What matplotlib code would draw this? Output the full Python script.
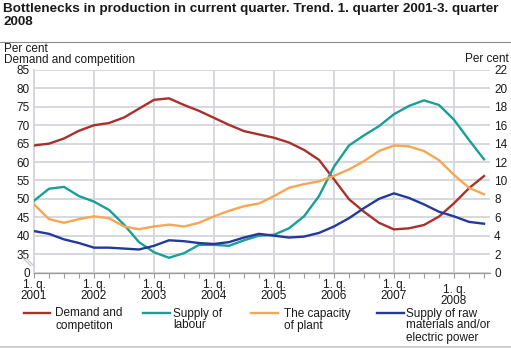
import numpy as np
import matplotlib
matplotlib.use("Agg")
import matplotlib.pyplot as plt
from matplotlib.lines import Line2D

plt.rcParams["font.family"] = ["Liberation Sans", "DejaVu Sans"]

# Quarterly trend, 1. quarter 2001 - 3. quarter 2008
years = [2001, 2002, 2003, 2004, 2005, 2006, 2007, 2008]
n_quarters = 31

# Left axis (per cent)
demand = [64.5, 65.0, 66.4, 68.5, 70.0, 70.6, 72.1, 74.5, 76.9, 77.3, 75.5,
          73.9, 72.0, 70.1, 68.4, 67.5, 66.6, 65.3, 63.3, 60.6, 55.3, 49.9,
          46.5, 43.5, 41.7, 42.0, 42.9, 45.2, 48.8, 52.9, 56.2]
# Right axis (per cent)
labour = [7.8, 9.1, 9.3, 8.3, 7.7, 6.8, 5.2, 3.3, 2.2, 1.6, 2.1, 3.0, 3.0,
          2.9, 3.5, 4.0, 4.1, 4.8, 6.1, 8.3, 11.5, 13.8, 14.9, 15.9, 17.2,
          18.1, 18.7, 18.2, 16.6, 14.4, 12.3]
capacity = [7.4, 5.8, 5.4, 5.8, 6.1, 5.9, 5.0, 4.7, 5.0, 5.2, 5.0, 5.4, 6.1,
            6.7, 7.2, 7.5, 8.3, 9.2, 9.6, 9.9, 10.5, 11.2, 12.1, 13.2, 13.8,
            13.7, 13.2, 12.2, 10.6, 9.2, 8.5]
raw_materials = [4.5, 4.2, 3.6, 3.2, 2.7, 2.7, 2.6, 2.5, 2.9, 3.5, 3.4, 3.2,
                 3.1, 3.3, 3.8, 4.2, 4.0, 3.8, 3.9, 4.3, 5.0, 5.9, 7.0, 8.0,
                 8.6, 8.1, 7.4, 6.6, 6.1, 5.5, 5.3]

left_ticks = [30, 35, 40, 45, 50, 55, 60, 65, 70, 75, 80, 85]
left_labels = ["0", "35", "40", "45", "50", "55", "60", "65", "70", "75", "80", "85"]
right_ticks = list(range(0, 23, 2))

series_labels = ["Demand and\ncompetiton", "Supply of\nlabour",
                 "The capacity\nof plant",
                 "Supply of raw\nmaterials and/or\nelectric power"]
colors = ["#a8312c", "#1a9e98", "#f8a651", "#24399a"]

W, H = 511, 348
fig = plt.figure(figsize=(W / 100, H / 100), dpi=100)


def fx(px):
    return px / W


def fy(py):
    return 1 - py / H


grid_c = "#d4d5dc"
text_c = "#1a1a1a"
fs = 8.5

ax = fig.add_axes([fx(34), fy(272.5), fx(490) - fx(34), fy(70) - fy(272.5)])
ax2 = ax.twinx()
x = np.arange(n_quarters)

ax.set_xlim(0, 30.4)
ax.set_ylim(30, 85)
ax2.set_ylim(0, 22)

ax.set_yticks(left_ticks)
ax.set_yticklabels(left_labels)
ax2.set_yticks(right_ticks)

year_pos = [4 * k for k in range(len(years))]
ax.set_xticks(year_pos)
ax.set_xticks(x, minor=True)
ax.set_xticklabels([])

ax.grid(True, axis="both", which="major", color=grid_c, lw=1.3)
ax.set_axisbelow(True)

for s in ["top", "right"]:
    ax.spines[s].set_visible(False)
for s in ["top", "right", "left", "bottom"]:
    ax2.spines[s].set_visible(False)
ax.spines["left"].set_color(grid_c)
ax.spines["left"].set_linewidth(1.3)
ax.spines["bottom"].set_color("#9a9a9a")
ax.spines["bottom"].set_linewidth(0.9)

ax.tick_params(axis="y", length=0, pad=3.0, labelsize=fs, labelcolor=text_c)
ax2.tick_params(axis="y", length=0, pad=3.0, labelsize=fs, labelcolor=text_c)
ax.tick_params(axis="x", which="both", direction="out", length=3.5,
               width=0.8, color="#9a9a9a")

ax.plot(x, demand, color=colors[0], lw=1.7, solid_joinstyle="round", zorder=3)
ax2.plot(x, labour, color=colors[1], lw=1.7, solid_joinstyle="round")
ax2.plot(x, capacity, color=colors[2], lw=1.7, solid_joinstyle="round")
ax2.plot(x, raw_materials, color=colors[3], lw=1.7, solid_joinstyle="round")

# Broken-axis marks between 0 and 35
for dx in (0, 3):
    fig.add_artist(Line2D([fx(23 + dx), fx(31 + dx)], [fy(258), fy(266)],
                          color="#c9cad2", lw=0.9))

# Year labels under the axis
trans = ax.get_xaxis_transform()
for k, yr in enumerate(years):
    top = -0.03 if yr != 2008 else -0.055
    ax.text(year_pos[k], top, f"1. q.\n{yr}", transform=trans, ha="center",
            va="top", fontsize=fs, color=text_c, linespacing=0.92)

# Title and axis captions
fig.text(fx(3), fy(3), "Bottlenecks in production in current quarter. Trend. "
         "1. quarter 2001-3. quarter\n2008", ha="left", va="top",
         fontsize=9.7, weight="bold", color=text_c, linespacing=1.1)
fig.add_artist(Line2D([0, 1], [fy(42), fy(42)], color="#8a8a8a", lw=0.8))
fig.text(fx(4), fy(48.5), "Per cent", ha="left", va="center", fontsize=fs,
         color=text_c)
fig.text(fx(4), fy(59.5), "Demand and competition", ha="left", va="center",
         fontsize=fs, color=text_c)
fig.text(fx(509), fy(59.5), "Per cent", ha="right", va="center", fontsize=fs,
         color=text_c)

# Legend
legend_x = [(24, 50, 55), (143, 170, 173), (251, 278, 284), (377, 404, 406)]
for (l0, l1, tx), lab, c in zip(legend_x, series_labels, colors):
    fig.add_artist(Line2D([fx(l0), fx(l1)], [fy(313), fy(313)], color=c,
                          lw=1.7))
    fig.text(fx(tx), fy(307.5), lab, ha="left", va="top", fontsize=fs,
             color=text_c, linespacing=1.0)

fig.add_artist(Line2D([0, 1], [fy(346.5), fy(346.5)], color="#cfcfcf", lw=2.2))

fig.savefig("out.png", dpi=100)
